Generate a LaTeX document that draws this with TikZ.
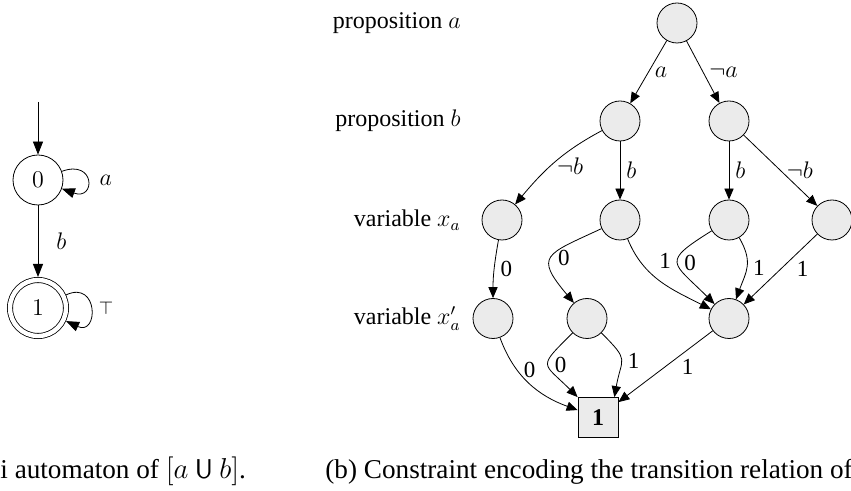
\documentclass[tikz,border=0pt]{standalone}
\usepackage{fontspec}
\setmainfont{Liberation Serif}
\usepackage{tikz}
\usetikzlibrary{arrows.meta,positioning}
\definecolor{bddgray}{HTML}{EBEBEB}

\begin{document}
\begin{tikzpicture}[x=0.5pt,y=-0.5pt,
    autarrow/.style={-{Triangle[length=6.5pt,width=5pt]}},
    bddarrow/.style={-{Triangle[length=5.5pt,width=4.6pt]}},
    state/.style={draw,circle,minimum size=25pt,inner sep=0pt,font=\fontsize{12.5}{15}\selectfont},
    bddnode/.style={draw,circle,fill=bddgray,minimum size=20pt,inner sep=0pt},
    bddterm/.style={draw,fill=bddgray,minimum size=20pt,inner sep=0pt,font=\fontsize{12}{14}\selectfont\bfseries},
    lvl/.style={anchor=east,inner sep=0pt,font=\fontsize{12}{14}\selectfont},
    elbl/.style={inner sep=3pt,font=\fontsize{11.5}{13}\selectfont},
    autlbl/.style={inner sep=3pt,font=\fontsize{13}{15}\selectfont},
    capt/.style={anchor=base west,inner sep=0pt,font=\fontsize{13.6}{16}\selectfont}]
  \useasboundingbox (0,0) rectangle (851,491);

  % (a) automaton
  \node[state] (q0) at (38,180) {$0$};
  \node[state,double,double distance=2.2pt,minimum size=28pt,outer sep=1.5pt] (q1) at (38,308) {$1$};
  \coordinate (q0in) at (38,102);
  \draw[autarrow] (q0in) -- (q0);
  \draw[autarrow] (q0) -- node[autlbl,right=6pt] {$b$} (q1);
  \draw[autarrow] (q0) to[out=20,in=-20,min distance=18pt] node[autlbl,right=3pt] {$a$} (q0);
  \draw[autarrow] (q1) to[out=25,in=-25,min distance=18pt] node[autlbl,right=1pt,font=\fontsize{9}{11}\selectfont] {$\top$} (q1);

  % (b) constraint
  \foreach \n/\txt/\y in {lpa/{proposition $a$}/23, lpb/{proposition $b$}/121,
                          lxa/{variable $x_a$}/220, lxp/{variable $x'_a$}/318.5}
    \node[lvl] (\n) at (461,\y) {\txt};
  \foreach \n/\x/\y in {r/677/23, b1/620/121, b2/729/121, x1/502/220, x2/620/220,
                        x3/729/220, x4/832/220, y1/493/318.5, y2/587/318.5, y3/729/318.5}
    \node[bddnode] (\n) at (\x,\y) {};
  \node[bddterm] (one) at (598,417.5) {1};

  \draw[bddarrow] (r) -- node[elbl,right] {$a$} (b1);
  \draw[bddarrow] (r) -- node[elbl,right] {$\neg a$} (b2);
  \draw[bddarrow] (b1) to[out=208,in=50] node[elbl,pos=.55,right] {$\neg b$} (x1);
  \draw[bddarrow] (b1) -- node[elbl,right] {$b$} (x2);
  \draw[bddarrow] (b2) -- node[elbl,right] {$b$} (x3);
  \draw[bddarrow] (b2) -- node[elbl,right] {$\neg b$} (x4);
  \draw[bddarrow] (x1) to[out=-100,in=90] node[elbl,right] {0} (y1);
  \draw[bddarrow] (x2) to[out=205,in=130,looseness=2] node[elbl,right] {0} (y2);
  \draw[bddarrow] (x2) to[out=-68,in=153] node[elbl,pos=.4,above right] {1} (y3);
  \draw[bddarrow] (x3) to[out=212,in=135,looseness=2.1] node[elbl,right] {0} (y3);
  \draw[bddarrow] (x3) to[out=-60,in=70,looseness=1.2] node[elbl,right] {1} (y3);
  \draw[bddarrow] (x4) -- node[elbl,right=5pt] {1} (y3);
  \draw[bddarrow] (y1) to[out=-70,in=160] node[elbl,pos=.33,right] {0} (one);
  \draw[bddarrow] (y2) to[out=225,in=135,looseness=2] node[elbl,right] {0} (one);
  \draw[bddarrow] (y2) to[out=-45,in=80,looseness=1.6] node[elbl,right] {1} ([xshift=-2pt]one.north east);
  \draw[bddarrow] (y3) -- node[elbl,right=5pt] {1} (one);

  \node[capt] (capa) at (0,479) {i automaton of $[a \mathbin{\mathsf{U}} b]$.};
  \node[capt] (capb) at (325,479) {(b) Constraint encoding the transition relation of};
\end{tikzpicture}
\end{document}
